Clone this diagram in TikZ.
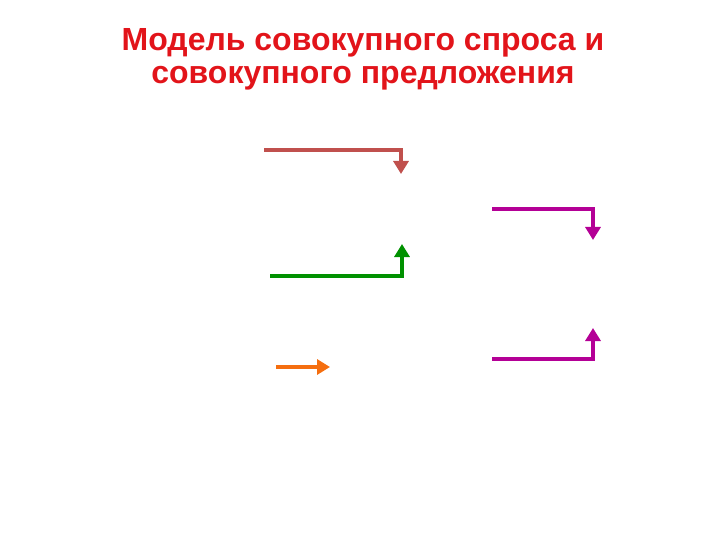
\documentclass[tikz,border=0pt]{standalone}
\usepackage{fontspec}
\setmainfont{Liberation Sans}
\usetikzlibrary{arrows.meta}
\definecolor{titlered}{RGB}{226,20,26}
\definecolor{brownred}{RGB}{192,80,77}
\definecolor{magentaA}{RGB}{180,0,150}
\definecolor{greenA}{RGB}{0,145,0}
\definecolor{orangeA}{RGB}{245,110,15}
\tikzset{
  flow/.style={line width=4.5pt, -{Triangle[length=13pt,width=15pt]}},
  title/.style={font=\fontsize{32pt}{34pt}\selectfont\bfseries, text=titlered, anchor=base, inner sep=0pt}
}
\begin{document}
\begin{tikzpicture}[x=1pt,y=-1pt]
\useasboundingbox (0,0) rectangle (720,540);
\node[title] (t1) at (363,51) {Модель совокупного спроса и};
\node[title] (t2) at (363,84) {совокупного предложения};
% brown arrow
\coordinate (a1s) at (264,150);
\coordinate (a1c) at (401,150);
\coordinate (a1e) at (401,174);
\draw[flow, brownred] (a1s) -- (a1c) -- (a1e);
% magenta down
\coordinate (a2s) at (492,209);
\coordinate (a2c) at (593,209);
\coordinate (a2e) at (593,240);
\draw[flow, magentaA] (a2s) -- (a2c) -- (a2e);
% green up
\coordinate (a3s) at (270,276);
\coordinate (a3c) at (402,276);
\coordinate (a3e) at (402,244);
\draw[flow, greenA] (a3s) -- (a3c) -- (a3e);
% magenta up
\coordinate (a4s) at (492,359);
\coordinate (a4c) at (593,359);
\coordinate (a4e) at (593,328);
\draw[flow, magentaA] (a4s) -- (a4c) -- (a4e);
% orange right
\coordinate (a5s) at (276,367);
\coordinate (a5e) at (330,367);
\draw[flow, orangeA] (a5s) -- (a5e);
\end{tikzpicture}
\end{document}
